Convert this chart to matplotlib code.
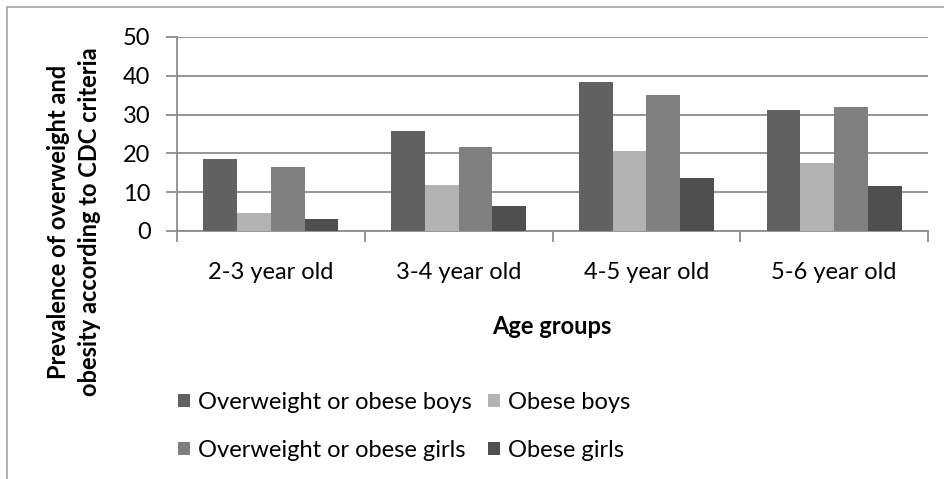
import numpy as np
import matplotlib.pyplot as plt
from matplotlib.patches import Rectangle

plt.rcParams['font.family'] = ['Lato', 'DejaVu Sans']

groups = ['2-3 year old', '3-4 year old', '4-5 year old', '5-6 year old']
series_names = ['Overweight or obese boys', 'Obese boys',
                'Overweight or obese girls', 'Obese girls']
ow_boys = [18.5, 25.8, 38.3, 31.1]
obese_boys = [4.6, 11.9, 20.5, 17.4]
ow_girls = [16.6, 21.6, 35.1, 32.0]
obese_girls = [3.1, 6.5, 13.7, 11.5]
yticks = [0, 10, 20, 30, 40, 50]

colors = ['#616161', '#b3b3b3', '#808080', '#4f4f4f']
grid_col = '#8c8c8c'
fs = 17

W, H = 944, 479
fig = plt.figure(figsize=(W / 100, H / 100), dpi=100)

# chart border (runs off the right and bottom of the picture)
fig.patches.append(Rectangle((7 / W, -0.1), 1.2, 1 - 7 / H + 0.1,
                             transform=fig.transFigure, fill=False,
                             edgecolor='#a6a6a6', linewidth=1.2))

ax = fig.add_axes([177 / W, 1 - 231 / H, (928 - 177) / W, (231 - 37) / H])

x = np.arange(len(groups))
width = 0.18
all_series = [ow_boys, obese_boys, ow_girls, obese_girls]
bars = []
for i, vals in enumerate(all_series):
    b = ax.bar(x + (i - 1.5) * width, vals, width, color=colors[i],
               label=series_names[i], zorder=3)
    bars.append(b)

ax.set_xlim(-0.5, len(groups) - 0.5)
ax.set_ylim(0, 50)
ax.set_yticks(yticks)
ax.set_yticklabels([str(v) for v in yticks])
ax.yaxis.grid(True, color=grid_col, linewidth=1.3, zorder=0)
ax.set_axisbelow(True)

ax.set_xticks(x)
ax.set_xticklabels(groups)
ax.set_xticks(np.arange(len(groups) + 1) - 0.5, minor=True)
ax.tick_params(axis='x', which='major', length=0, pad=22, labelsize=fs)
ax.tick_params(axis='x', which='minor', length=8, width=1.3, color=grid_col)
ax.tick_params(axis='y', length=8, width=1.3, color=grid_col, pad=11,
               labelsize=fs)

for s in ['top', 'right']:
    ax.spines[s].set_visible(False)
for s in ['left', 'bottom']:
    ax.spines[s].set_color(grid_col)
    ax.spines[s].set_linewidth(1.3)

fig.text(552 / W, 1 - 334 / H, 'Age groups', ha='center', va='baseline',
         fontsize=fs, fontweight='bold')
fig.text(74 / W, 1 - 222 / H,
         'Prevalence of overweight and\nobesity according to CDC criteria',
         rotation=90, ha='center', va='center', multialignment='center',
         fontsize=fs, fontweight='bold', linespacing=1.4)

# legend filled row by row like the original
order = [0, 2, 1, 3]
fig.legend([bars[i] for i in order], [series_names[i] for i in order],
           loc='upper left', bbox_to_anchor=(178 / W, 1 - 392 / H), ncol=2,
           frameon=False, fontsize=fs, handlelength=0.5, handleheight=0.5,
           handletextpad=0.35, columnspacing=0.7, labelspacing=1.13,
           borderaxespad=0, borderpad=0)

fig.savefig('out.png', dpi=100)
